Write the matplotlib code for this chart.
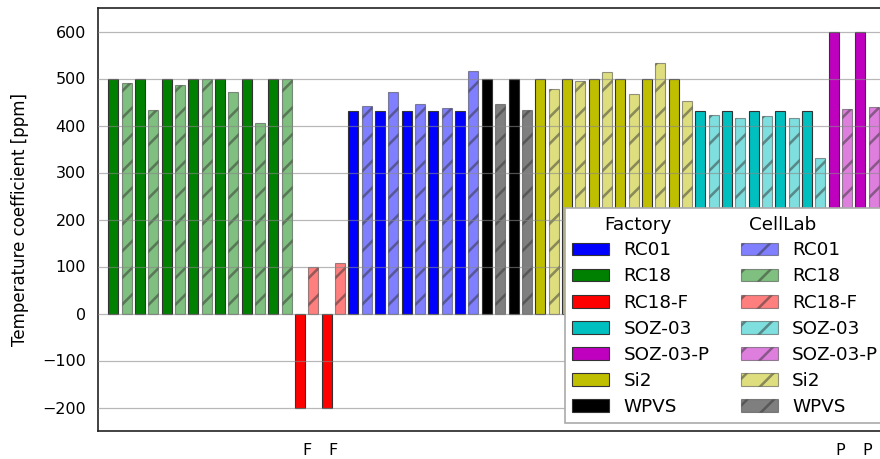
import matplotlib
matplotlib.use("Agg")
import matplotlib.pyplot as plt
from matplotlib.patches import Rectangle
import numpy as np

# Sample groups, in plotting order, one entry per factory/CellLab pair
groups = (["RC18"] * 7 + ["RC18-F"] * 2 + ["RC01"] * 5 + ["WPVS"] * 2 +
          ["Si2"] * 6 + ["SOZ-03"] * 5 + ["SOZ-03-P"] * 2)

factory_vals = [500, 500, 500, 500, 500, 500, 500,
                -200, -200,
                430, 430, 430, 430, 430,
                500, 500,
                500, 500, 500, 500, 500, 500,
                430, 430, 430, 430, 430,
                600, 600]

celllab_vals = [491, 434, 487, 498, 471, 405, 500,
                100, 107,
                442, 472, 446, 438, 517,
                445, 432,
                478, 494, 514, 466, 533, 452,
                423, 415, 421, 417, 331,
                435, 440]

tick_marks = {"RC18-F": "F", "SOZ-03-P": "P"}

legend_order = ["RC01", "RC18", "RC18-F", "SOZ-03", "SOZ-03-P", "Si2", "WPVS"]
colors = {"RC01": "b", "RC18": "g", "RC18-F": "r", "SOZ-03": "c",
          "SOZ-03-P": "m", "Si2": "y", "WPVS": "k"}

plt.rcParams["hatch.color"] = "#151515"
plt.rcParams["hatch.linewidth"] = 2.3

DPI = 80
W, H = 880, 459
fig = plt.figure(figsize=(W / DPI, H / DPI), dpi=DPI)
ax = fig.add_axes([98 / W, (H - 431) / H, (889 - 98) / W, (431 - 8) / H])

x = np.arange(len(groups))
bw = 0.375
off = 0.25
for xi, g, fv, cv in zip(x, groups, factory_vals, celllab_vals):
    ax.bar(xi - off, fv, width=bw, color=colors[g], edgecolor="#333333",
           linewidth=1.0, zorder=2)
    ax.bar(xi + off, cv, width=bw, color=colors[g], alpha=0.5,
           edgecolor="#333333", linewidth=1.0, hatch="/", zorder=2)

ax.set_xlim(-0.82, len(groups) - 1 + 0.82)
ax.set_ylim(-250, 650)
ax.set_xticks(x)
ax.set_xticklabels([tick_marks.get(g, "") for g in groups])
ax.set_yticks(np.arange(-200, 601, 100))
ax.tick_params(axis="both", length=0, labelsize=14.4, pad=11)
ax.set_ylabel("Temperature coefficient [ppm]", fontsize=15, labelpad=12)
ax.grid(axis="y", color="#888888", alpha=0.6, linewidth=1.1, zorder=3)
ax.set_axisbelow(False)
for s in ax.spines.values():
    s.set_linewidth(1.5)
    s.set_color("#222222")

# two-column legend: factory handles on the left, CellLab handles on the right
blank = Rectangle((0, 0), 1, 1, visible=False)
handles = [blank]
labels = [""]
for g in legend_order:
    handles.append(Rectangle((0, 0), 1, 1, facecolor=colors[g],
                             edgecolor="#333333", linewidth=1.0))
    labels.append(g)
handles.append(blank)
labels.append("")
for g in legend_order:
    handles.append(Rectangle((0, 0), 1, 1, facecolor=colors[g], alpha=0.5,
                             edgecolor="#333333", linewidth=1.0, hatch="/"))
    labels.append(g)

leg = ax.legend(handles, labels, ncol=2, loc="upper left",
                bbox_to_anchor=(565 / W, 1 - 208 / H),
                bbox_transform=fig.transFigure, fontsize=16.5,
                fancybox=False, edgecolor="#aaaaaa", framealpha=1,
                borderaxespad=0, borderpad=0.4, handlelength=2.0,
                handleheight=0.7, labelspacing=0.44, columnspacing=1.7,
                handletextpad=0.8)
leg.get_frame().set_linewidth(1.5)

fig.canvas.draw()
r = fig.canvas.get_renderer()
for h, name, dx in ((leg.legend_handles[0], "Factory", 32),
                    (leg.legend_handles[8], "CellLab", 8)):
    bb = h.get_window_extent(r)
    fig.text((bb.x0 + dx) / W, ((bb.y0 + bb.y1) / 2 - 2) / H, name,
             fontsize=16.5, ha="left", va="center")

fig.savefig("out.png", dpi=DPI)
